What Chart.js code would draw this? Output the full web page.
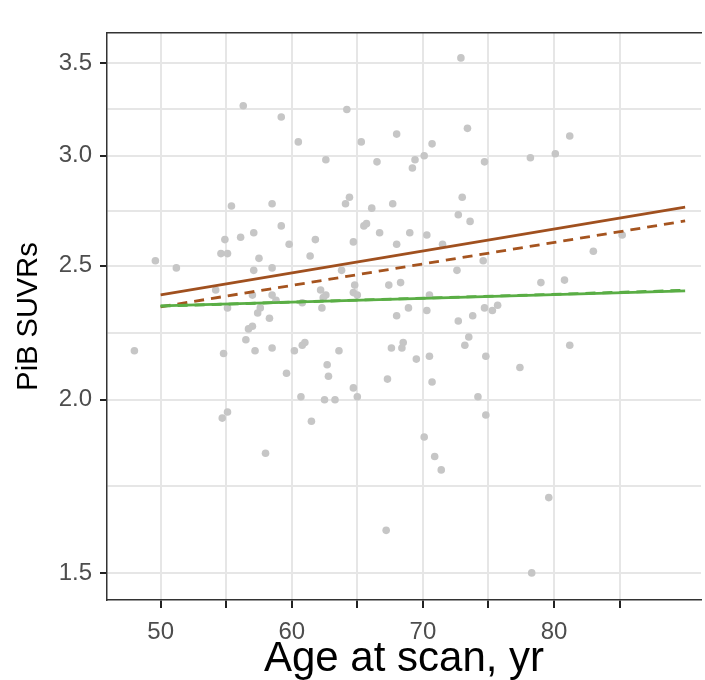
<!DOCTYPE html>
<html lang="en">
<head>
    <meta charset="UTF-8">
    <title>PiB SUVR by age</title>
    <script src="https://cdn.jsdelivr.net/npm/chart.js"></script>
    <style>
        html, body { margin: 0; padding: 0; background: #fff; overflow: hidden; }
        #wrap { width: 705px; height: 680px; }
    </style>
</head>
<body>
    <div id="wrap"><canvas id="chart" width="705" height="680"></canvas></div>

    <script>
        // Individual scans: age (yr) and PiB SUVR
        const ages = [48.0, 49.6, 51.2, 54.2, 54.6, 55.1, 54.9, 55.4, 55.1, 54.7, 55.1, 54.8,
            56.1, 56.3, 57.1, 57.5, 57.1, 57.0, 57.6, 57.4, 58.3, 57.0, 56.7, 56.5, 57.2, 58.5,
            58.5, 59.2, 59.2, 58.5, 58.5, 58.8, 59.8, 60.5, 60.2, 59.6, 58.0, 60.8, 60.8, 61.0,
            60.7, 61.4, 61.8, 61.5, 62.6, 62.2, 62.6, 62.4, 62.3, 62.5, 63.3, 63.6, 62.7, 62.8,
            63.8, 64.2, 64.1, 64.4, 64.7, 64.8, 64.7, 65.0, 64.7, 65.0, 65.3, 65.5, 65.7, 66.1,
            66.5, 66.7, 67.3, 67.2, 67.4, 67.7, 68.0, 68.0, 68.0, 67.6, 68.4, 68.5, 68.3, 69.0,
            68.9, 69.4, 69.2, 69.5, 70.1, 70.3, 70.5, 70.3, 70.5, 70.7, 70.7, 70.1, 70.9, 71.4,
            71.5, 72.6, 72.7, 72.9, 73.4, 73.0, 72.7, 73.6, 73.2, 73.5, 73.8, 74.7, 74.6, 74.7,
            75.3, 75.7, 74.8, 74.2, 74.8, 77.4, 78.2, 78.3, 79.0, 79.6, 80.1, 80.8, 81.2, 81.2,
            83.0, 85.2];
        const suvr = [2.17, 2.52, 2.49, 2.40, 2.55, 2.55, 2.61, 2.76, 2.33, 1.94, 1.96, 2.16,
            2.62, 3.26, 2.64, 2.53, 2.48, 2.38, 2.33, 2.31, 2.29, 2.26, 2.25, 2.21, 2.17, 2.18,
            2.77, 2.67, 3.20, 2.49, 2.38, 2.36, 2.59, 3.07, 2.17, 2.09, 1.83, 2.35, 2.19, 2.20,
            2.01, 2.54, 2.61, 1.93, 2.98, 2.40, 2.38, 2.37, 2.33, 2.00, 2.00, 2.17, 2.12, 2.08,
            2.48, 3.24, 2.77, 2.80, 2.60, 2.42, 2.39, 2.38, 2.04, 2.01, 3.07, 2.67, 2.68, 2.75,
            2.97, 2.64, 2.07, 1.61, 2.42, 2.77, 3.11, 2.59, 2.30, 2.18, 2.18, 2.20, 2.43, 2.64,
            2.33, 2.98, 2.94, 2.14, 3.00, 2.63, 2.38, 2.32, 2.15, 3.06, 2.06, 1.88, 1.82, 1.78,
            2.59, 2.48, 2.28, 3.53, 3.14, 2.80, 2.72, 2.69, 2.19, 2.22, 2.30, 2.97, 2.52, 2.33,
            2.32, 2.34, 2.15, 2.01, 1.95, 2.11, 2.99, 1.50, 2.43, 1.70, 3.01, 2.44, 3.10, 2.19,
            2.56, 2.63];

        // Fitted trends over the age range
        const fitAges = [50, 90];
        const brownSolid = [2.381, 2.755];
        const brownDashed = [2.334, 2.692];
        const greenSolid = [2.338, 2.397];
        const greenDashed = [2.337, 2.399];

        // Axis breaks
        const xBreaks = [50, 55, 60, 65, 70, 75, 80, 85];
        const yMajor = [1.5, 2.0, 2.5, 3.0, 3.5];
        const yMinor = [1.732, 2.236, 2.739, 3.240];

        const toXY = (xs, ys) => xs.map((x, i) => ({ x: x, y: ys[i] }));
        const FONT = "'Liberation Sans', Arial, sans-serif";
        const GRID = '#e6e6e6';

        function fitLine(data, color, dash) {
            return {
                type: 'line',
                data: data,
                borderColor: color,
                borderWidth: 2.8,
                borderDash: dash,
                pointRadius: 0,
                fill: false,
                tension: 0
            };
        }

        new Chart(document.getElementById('chart'), {
            type: 'scatter',
            data: {
                datasets: [
                    fitLine(toXY(fitAges, greenSolid), '#5aae45', []),
                    fitLine(toXY(fitAges, greenDashed), '#52a83e', [10, 7]),
                    fitLine(toXY(fitAges, brownSolid), '#a0501f', []),
                    fitLine(toXY(fitAges, brownDashed), '#a5541f', [10, 7]),
                    {
                        data: toXY(ages, suvr),
                        backgroundColor: '#c6c6c6',
                        borderWidth: 0,
                        pointRadius: 3.8
                    }
                ]
            },
            options: {
                responsive: false,
                animation: false,
                layout: { padding: { top: 33, right: 0, bottom: 0, left: 0 } },
                plugins: { legend: { display: false }, tooltip: { enabled: false } },
                scales: {
                    x: {
                        type: 'linear',
                        min: 45.91,
                        max: 91.21,
                        afterBuildTicks: s => { s.ticks = xBreaks.map(v => ({ value: v })); },
                        afterFit: s => { s.height = 80; },
                        grid: {
                            color: GRID,
                            lineWidth: 2,
                            tickColor: '#222',
                            tickLength: 8,
                            tickWidth: 2
                        },
                        border: { display: true, color: '#333', width: 1.5 },
                        ticks: {
                            color: '#4d4d4d',
                            font: { family: FONT, size: 24 },
                            padding: 10,
                            maxRotation: 0,
                            callback: v => (v % 10 === 0 ? String(v) : '')
                        },
                        title: {
                            display: true,
                            text: 'Age at scan, yr',
                            color: '#000',
                            font: { family: FONT, size: 42, lineHeight: 1.0 },
                            padding: { top: 0, bottom: 0 }
                        }
                    },
                    xTop: {
                        type: 'linear',
                        position: 'top',
                        min: 45.91,
                        max: 91.21,
                        afterFit: s => { s.height = 0; },
                        grid: { display: false, drawTicks: false },
                        border: { display: true, color: '#333', width: 1.5 },
                        ticks: { display: false }
                    },
                    y: {
                        type: 'logarithmic',
                        min: 1.434,
                        max: 3.679,
                        afterBuildTicks: s => {
                            s.ticks = yMajor.concat(yMinor).sort((a, b) => a - b).map(v => ({ value: v }));
                        },
                        afterFit: s => { s.width = 107; },
                        grid: {
                            color: GRID,
                            lineWidth: 2,
                            tickColor: c => (yMajor.includes(c.tick.value) ? '#222' : 'rgba(0,0,0,0)'),
                            tickLength: 7,
                            tickWidth: 2
                        },
                        border: { display: true, color: '#333', width: 1.5 },
                        ticks: {
                            color: '#4d4d4d',
                            font: { family: FONT, size: 24 },
                            padding: 8,
                            callback: v => (yMajor.includes(v) ? v.toFixed(1) : '')
                        },
                        title: {
                            display: true,
                            text: 'PiB SUVRs',
                            color: '#000',
                            font: { family: FONT, size: 29 },
                            padding: { top: 12, bottom: 0 }
                        }
                    }
                }
            }
        });
    </script>
</body>
</html>
